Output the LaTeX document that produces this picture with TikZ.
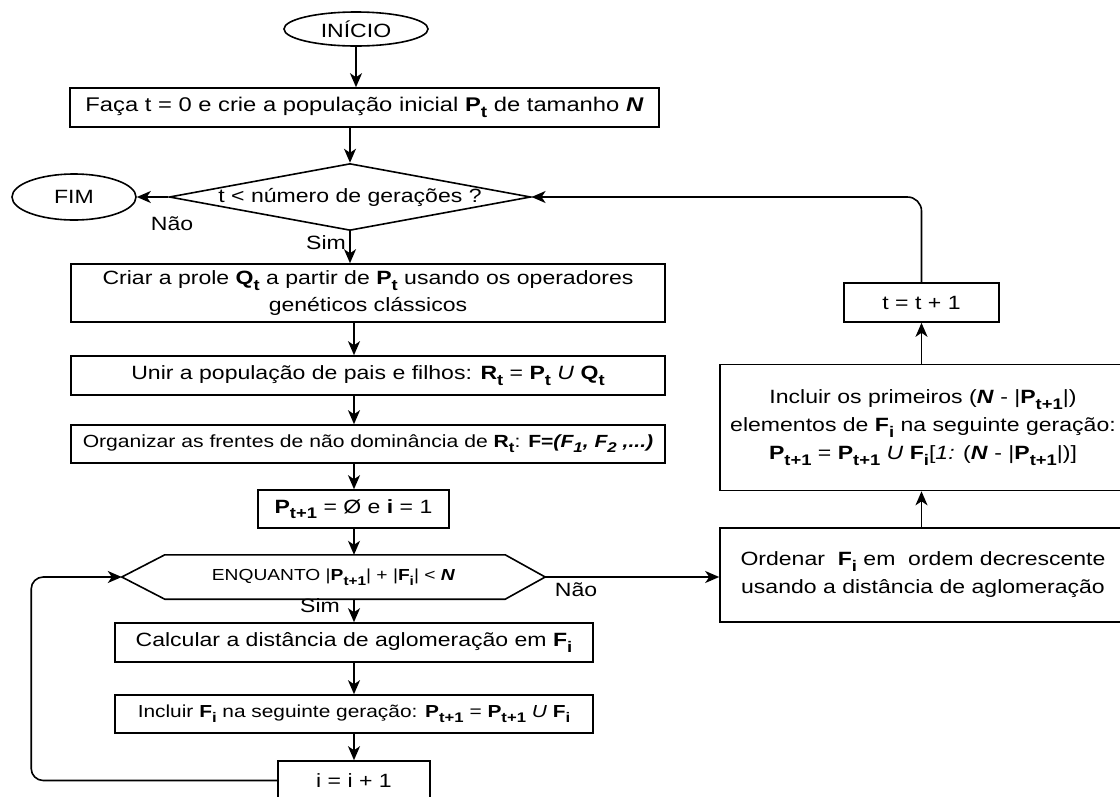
\documentclass[tikz,border=0pt]{standalone}
\usepackage{fontspec}
\setmainfont[FakeStretch=1.2]{Liberation Sans}
\usetikzlibrary{arrows.meta,shapes.geometric,calc}
\makeatletter
\newcommand\sbx[1]{\raisebox{-0.3em}{\fontsize{\fpeval{0.8*\f@size}}{0}\selectfont #1}}
\makeatother
\newcommand\fsM{\fontsize{19.2}{28}\selectfont}
\newcommand\fsO{\fontsize{17.6}{24}\selectfont}
\newcommand\fsI{\fontsize{17.4}{24}\selectfont}
\newcommand\fsH{\fontsize{16}{24}\selectfont}
\newcommand\bsub[2]{\textbf{#1\sbx{#2}}}
\begin{document}
\begin{tikzpicture}[x=1pt,y=-1pt,
  box/.style={draw, line width=1.6pt, rectangle, inner sep=0pt, align=center, font=\fsM},
  term/.style={draw, line width=1.6pt, ellipse, inner sep=0pt, font=\fsM},
  dia/.style={draw, line width=1.6pt, diamond, inner sep=0pt, aspect=5.4, font=\fsM},
  hexn/.style={inner sep=0pt, font=\fsH},
  lbl/.style={inner sep=0pt, font=\fsM},
  arr/.style={line width=1.6pt, -{Stealth[length=14pt,width=12pt,inset=4pt]}},
  ln/.style={line width=1.6pt}]
\useasboundingbox (0,0) rectangle (1120,796);

\node[term, minimum width=144pt, minimum height=34pt] (start) at (356,29) {INÍCIO};
\node[box, minimum width=589pt, minimum height=39pt, font=\fontsize{19.8}{28}\selectfont] (n1) at (364.5,107.5)
  {Faça t = 0 e crie a população inicial \bsub{P}{t} de tamanho \textbf{\textit{N}}};
\node[dia, minimum width=360pt, minimum height=66pt] (dec) at (350,197) {t < número de gerações ?};
\node[term, minimum width=124pt, minimum height=46pt] (fim) at (74,197) {FIM};
\node[box, minimum width=594pt, minimum height=58pt, font=\fontsize{19.2}{27}\selectfont] (n2) at (368,293)
  {Criar a prole \bsub{Q}{t} a partir de \bsub{P}{t} usando os operadores\\genéticos clássicos};
\node[box, minimum width=594pt, minimum height=39pt] (n3) at (368,375.5)
  {Unir a população de pais e filhos: \bsub{R}{t} = \bsub{P}{t} \textit{U} \bsub{Q}{t}};
\node[box, minimum width=594pt, minimum height=38pt, font=\fsO] (n4) at (368,444)
  {Organizar as frentes de não dominância de \bsub{R}{t}: \textbf{F=\textit{(F\sbx{1}, F\sbx{2} ,...)}}};
\node[box, minimum width=191pt, minimum height=38pt] (n5) at (353.5,509)
  {\bsub{P}{t+1} = Ø e \textbf{i} = 1};
\node[hexn, minimum width=423pt, minimum height=44pt] (hex) at (333.5,577)
  {ENQUANTO |\bsub{P}{t+1}| + |\bsub{F}{i}| < \textbf{\textit{N}}};
\draw[ln] (hex.west) -- ($(hex.north west)+(43,0)$) -- ($(hex.north east)+(-40,0)$) -- (hex.east)
  -- ($(hex.south east)+(-40,0)$) -- ($(hex.south west)+(43,0)$) -- cycle;
\node[box, minimum width=478pt, minimum height=39pt] (n6) at (354,642.5)
  {Calcular a distância de aglomeração em \bsub{F}{i}};
\node[box, minimum width=478pt, minimum height=38pt, font=\fsI] (n7) at (354,714)
  {Incluir \bsub{F}{i} na seguinte geração: \bsub{P}{t+1} = \bsub{P}{t+1} \textit{U} \bsub{F}{i}};
\node[box, minimum width=152pt, minimum height=39pt] (n8) at (354,780.5) {i = i + 1};

\node[box, minimum width=406pt, minimum height=94pt] (ord) at (923,575)
  {Ordenar \ \bsub{F}{i} em \ ordem decrescente\\usando a distância de aglomeração};
\node[box, minimum width=406pt, minimum height=126pt] (inc) at (923,427.5)
  {Incluir os primeiros (\textbf{\textit{N}} - |\bsub{P}{t+1}|)\\
   elementos de \bsub{F}{i} na seguinte geração:\\
   \bsub{P}{t+1} = \bsub{P}{t+1} \textit{U} \bsub{F}{i}[\textit{1:} (\textbf{\textit{N}} - |\bsub{P}{t+1}|)]};
\node[box, minimum width=155pt, minimum height=39pt] (tt) at (921.5,302.5) {t = t + 1};

% labels
\node[lbl] (l1) at (172,224) {Não};
\node[lbl] (l2) at (326,243) {Sim};
\node[lbl] (l3) at (320,606) {Sim};
\node[lbl] (l4) at (576,590) {Não};

% connectors
\draw[arr] (start.south) -- (start.south |- n1.north);
\draw[arr] (n1.south -| dec.north) -- (dec.north);
\draw[arr] (dec.west) -- (fim.east);
\draw[arr] (dec.south) -- (dec.south |- n2.north);
\draw[arr] (n2.south -| n6) -- (n3.north -| n6);
\draw[arr] (n3.south -| n6) -- (n4.north -| n6);
\draw[arr] (n4.south -| n6) -- (n5.north -| n6);
\draw[arr] (n5.south -| n6) -- (hex.north -| n6);
\draw[arr] (hex.south -| n6) -- (n6.north);
\draw[arr] (n6.south) -- (n7.north);
\draw[arr] (n7.south) -- (n8.north);
\draw[arr, rounded corners=12pt] (n8.west) -- ++(-246,0) |- (hex.west);
\draw[arr] (hex.east) -- (hex.east -| ord.west);
\draw[arr] (ord.north -| tt) -- (inc.south -| tt);
\draw[arr] (inc.north -| tt) -- (tt.south);
\draw[arr, rounded corners=14pt] (tt.north) |- (dec.east);
\end{tikzpicture}
\end{document}
